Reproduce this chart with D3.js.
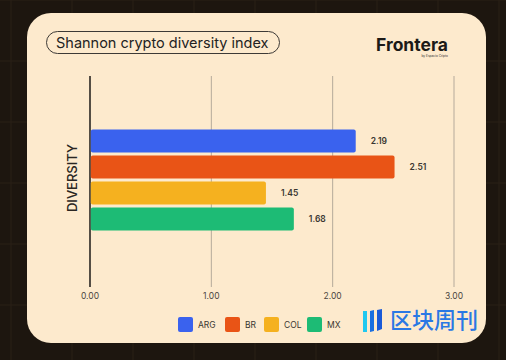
<!DOCTYPE html>
<html>
<head>
<meta charset="utf-8">
<script src="https://cdn.jsdelivr.net/npm/d3@7"></script>
<style>
  html, body { margin: 0; padding: 0; background: #1c150e; }
  svg { display: block; }
</style>
</head>
<body>
<svg id="chart" width="506" height="360"></svg>
<script>
// chart values
const countries = ["ARG", "BR", "COL", "MX"];
const diversity = [2.19, 2.51, 1.45, 1.68];
const colors = ["#3a62ee", "#e95416", "#f5b11f", "#1dbb75"];
const xTicks = [0, 1, 2, 3];

const W = 506, H = 360;
const svg = d3.select("#chart");

// dark backdrop with faint grid
svg.append("rect").attr("width", W).attr("height", H).attr("fill", "#1d160f");
const bgGrid = svg.append("g").attr("stroke", "#2a2117").attr("stroke-width", 1);
d3.range(11, W, 61).forEach(x => {
  bgGrid.append("line").attr("x1", x).attr("x2", x).attr("y1", 0).attr("y2", H);
});
d3.range(0, H, 61).forEach(y => {
  bgGrid.append("line").attr("x1", 0).attr("x2", W).attr("y1", y).attr("y2", y);
});

// card
svg.append("rect")
  .attr("x", 27).attr("y", 13).attr("width", 459).attr("height", 330)
  .attr("rx", 24).attr("fill", "#fdeacd");

// title pill
svg.append("rect")
  .attr("x", 46.5).attr("y", 31.5).attr("width", 233).attr("height", 22)
  .attr("rx", 11).attr("fill", "none").attr("stroke", "#3d3a36").attr("stroke-width", 1);
svg.append("text")
  .attr("x", 56).attr("y", 48)
  .attr("font-family", "Inter, 'Noto Sans', sans-serif")
  .attr("font-size", 14.5).attr("fill", "#222")
  .text("Shannon crypto diversity index");

// brand
svg.append("text")
  .attr("x", 376).attr("y", 51)
  .attr("font-family", "Inter, 'Noto Sans', sans-serif")
  .attr("font-weight", 700).attr("font-size", 17.5).attr("fill", "#1c1a17")
  .text("Frontera");
svg.append("text")
  .attr("x", 448).attr("y", 56.5).attr("text-anchor", "end")
  .attr("font-family", "Inter, sans-serif").attr("font-size", 3.2).attr("fill", "#333")
  .text("by Espacio Cripto");

// scales
const x = d3.scaleLinear().domain([0, 3]).range([90, 454]);
const y = d3.scaleBand().domain(countries).range([129, 231]).paddingInner(0.12).paddingOuter(0.02);

const plotTop = 76, plotBottom = 287;

// gridlines
svg.append("g").selectAll("line")
  .data(xTicks)
  .join("line")
    .attr("x1", d => x(d)).attr("x2", d => x(d))
    .attr("y1", plotTop).attr("y2", plotBottom)
    .attr("stroke", d => d === 0 ? "#2a2622" : "#b5aa9b")
    .attr("stroke-width", d => d === 0 ? 1.6 : 1);

// tick labels
svg.append("g").selectAll("text")
  .data(xTicks)
  .join("text")
    .attr("x", d => x(d)).attr("y", 299)
    .attr("text-anchor", "middle")
    .attr("font-family", "Inter, 'Noto Sans', sans-serif")
    .attr("font-size", 8.5).attr("fill", "#4a4640")
    .text(d => d3.format(".2f")(d));

// bars
svg.append("g").selectAll("rect")
  .data(countries)
  .join("rect")
    .attr("x", x(0) + 0.8)
    .attr("y", d => y(d))
    .attr("width", (d, i) => x(diversity[i]) - x(0) - 0.8)
    .attr("height", y.bandwidth())
    .attr("rx", 2)
    .attr("fill", (d, i) => colors[i]);

// value labels
svg.append("g").selectAll("text")
  .data(countries)
  .join("text")
    .attr("x", (d, i) => x(diversity[i]) + 15)
    .attr("y", d => y(d) + y.bandwidth() / 2 + 3)
    .attr("font-family", "Inter, 'Noto Sans', sans-serif")
    .attr("font-weight", 600)
    .attr("font-size", 8.5).attr("fill", "#3a3631")
    .text((d, i) => d3.format(".2f")(diversity[i]));

// axis title
svg.append("text")
  .attr("transform", "translate(77,178) rotate(-90)")
  .attr("text-anchor", "middle")
  .attr("font-family", "Inter, 'Noto Sans', sans-serif")
  .attr("font-weight", 500).attr("font-size", 13).attr("fill", "#2a2622")
  .text("DIVERSITY");

// legend
const legendX = [178, 225, 264, 307];
const legend = svg.append("g").selectAll("g")
  .data(countries)
  .join("g")
    .attr("transform", (d, i) => `translate(${legendX[i]},317)`);
legend.append("rect")
  .attr("width", 15).attr("height", 15).attr("rx", 2)
  .attr("fill", (d, i) => colors[i]);
legend.append("text")
  .attr("x", 20).attr("y", 11)
  .attr("font-family", "Inter, 'Noto Sans', sans-serif")
  .attr("font-size", 8.5).attr("fill", "#3a3631")
  .text(d => d);

// watermark
const wm = svg.append("g").attr("transform", "translate(363,309)");
wm.append("rect").attr("x", 0).attr("y", 2).attr("width", 4).attr("height", 21).attr("fill", "#1fc8f0");
wm.append("path").attr("d", "M7,2 L11,1 L11,22 L7,23 Z").attr("fill", "#1a6fe0");
wm.append("path").attr("d", "M14,1 L19,0 L19,20 L14,22 Z").attr("fill", "#1a5ad8");
wm.append("text")
  .attr("x", 27).attr("y", 19)
  .attr("font-family", "'Noto Sans CJK SC', sans-serif")
  .attr("font-weight", 500).attr("font-size", 22).attr("fill", "#2a78e4")
  .text("区块周刊");
</script>
</body>
</html>
